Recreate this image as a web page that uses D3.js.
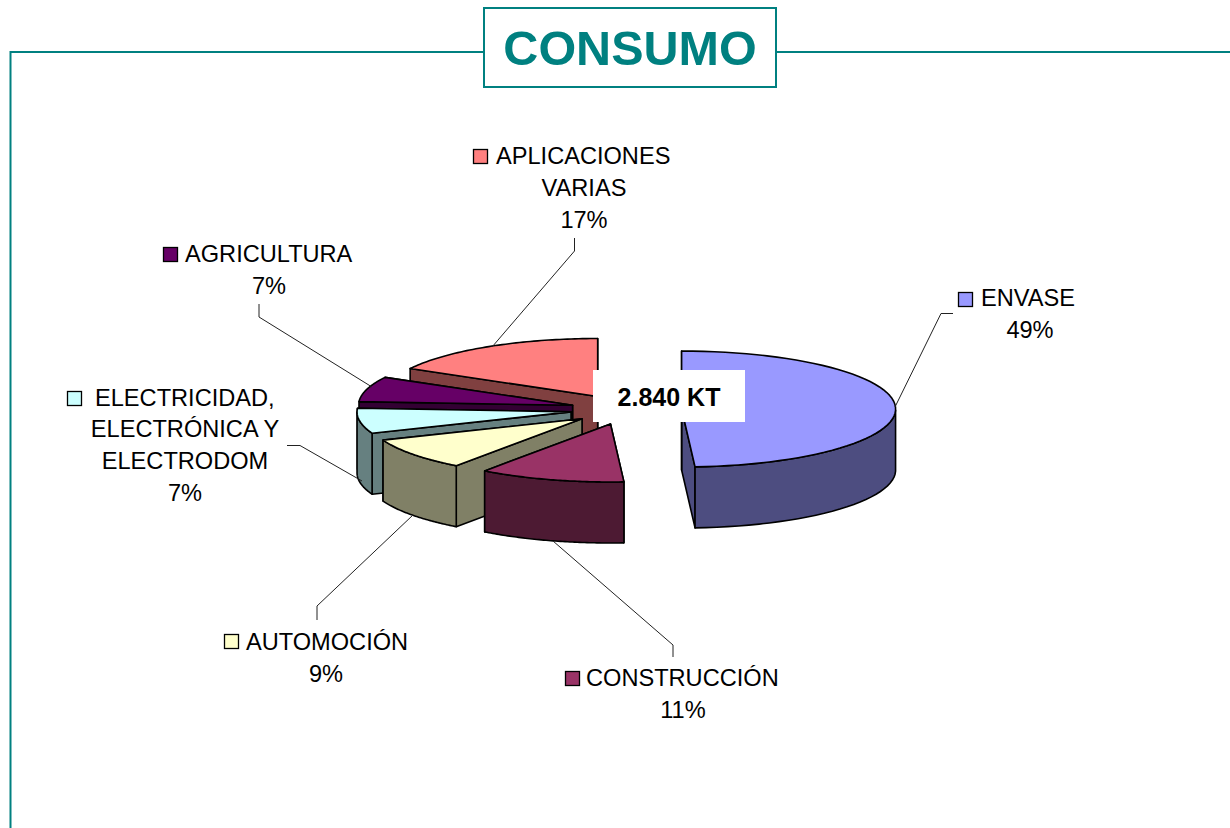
<!DOCTYPE html>
<html>
<head>
<meta charset="utf-8">
<script src="https://cdnjs.cloudflare.com/ajax/libs/d3/7.8.5/d3.min.js"></script>
<style>
html,body{margin:0;padding:0;background:#fff;overflow:hidden}
svg{display:block}
text{font-family:"Liberation Sans",Arial,sans-serif}
</style>
</head>
<body>
<svg id="c" width="1230" height="828"></svg>
<script>
// Data
const titleText = "CONSUMO";
const totalText = "2.840 KT";
const categories = ["ENVASE","CONSTRUCCIÓN","AUTOMOCIÓN","ELECTRICIDAD","AGRICULTURA","APLICACIONES"];
const values = [49,11,9,7,7,17];
const labelLines = [
  ["ENVASE"],
  ["CONSTRUCCIÓN"],
  ["AUTOMOCIÓN"],
  ["ELECTRICIDAD,","ELECTRÓNICA Y","ELECTRODOM"],
  ["AGRICULTURA"],
  ["APLICACIONES","VARIAS"]
];
// Styles
const topColors  = ["#9999FF","#993366","#FFFFCC","#CCFFFF","#660066","#FF8080"];
const sideColors = ["#4D4D80","#4D1A33","#808066","#668080","#330033","#804040"];
const teal = "#008080";
// Layout
const keyBoxes = [[958,292],[565,671],[224,634],[67,391],[163,247],[473,149]];
const labelCentres = [[1030,[306,338]],[683,[686,718]],[326,[650,682]],[185,[406,437,469,501]],[269,[262,294]],[584,[164,196,228]]];
const firstLineX = [981,586,246,95,185,496];
const leaders = [
  [[953,313.5],[941,313.5],[895,407]],
  [[673,657],[673,645],[553,541]],
  [[317,620],[317,606],[413,515]],
  [[287,445.5],[300,445.5],[362,481]],
  [[259,304],[259,317],[372,387]],
  [[574.5,238],[574.5,251],[492,347]]
];
const cx = 626, cy = 409.5, rx = 214, ry = 58, depth = 61, explode = 0.26;

const svg = d3.select("#c");
svg.append("rect").attr("width",1230).attr("height",828).attr("fill","#fff");

// frame
svg.append("path").attr("fill","none").attr("stroke",teal).attr("stroke-width",2)
  .attr("d",d3.line()([[10.5,828],[10.5,52],[1230,52]]));
svg.append("rect").attr("x",484).attr("y",8).attr("width",292).attr("height",79)
  .attr("fill","#fff").attr("stroke",teal).attr("stroke-width",2);
svg.append("text").attr("x",630).attr("y",65).attr("text-anchor","middle")
  .attr("font-size",48.5).attr("font-weight","bold").attr("fill",teal).text(titleText);

// pie
const x = d3.scaleLinear().domain([-1,1]).range([cx-rx,cx+rx]);
const y = d3.scaleLinear().domain([-1,1]).range([cy-ry,cy+ry]);
const arcs = d3.pie().sort(null).value(d=>d)(values);
const line = d3.line().curve(d3.curveLinearClosed);
const gPie = svg.append("g");

function slicePts(a){
  const mid = (a.startAngle+a.endAngle)/2;
  const ox = explode*Math.sin(mid), oy = -explode*Math.cos(mid);
  const P = t => [x(Math.sin(t)+ox), y(-Math.cos(t)+oy)];
  return {apex:[x(ox),y(oy)], P};
}
const down = p => [p[0],p[1]+depth];

// back-to-front drawing order
const order = [5,4,3,2,1,0];
order.forEach(i=>{
  const a = arcs[i], {apex,P} = slicePts(a);
  const n = 60;
  const angs = d3.range(n+1).map(k=>a.startAngle+(a.endAngle-a.startAngle)*k/n);
  const g = gPie.append("g").attr("stroke","#000").attr("stroke-width",1.6).attr("stroke-linejoin","round");
  // radial walls
  [a.endAngle,a.startAngle].forEach(t=>{
    const e = P(t);
    g.append("path").attr("fill",sideColors[i]).attr("d",line([apex,e,down(e),down(apex)]));
  });
  // outer wall (only the front half of the rim)
  const front = angs.filter(t=>Math.cos(t)<0);
  if(front.length>1){
    const top = front.map(P);
    g.append("path").attr("fill",sideColors[i]).attr("d",line(top.concat(top.map(down).reverse())));
  }
  // top face
  g.append("path").attr("fill",topColors[i]).attr("d",line([apex].concat(angs.map(P))));
});

// total label
svg.append("rect").attr("x",593).attr("y",370).attr("width",152).attr("height",52).attr("fill","#fff");
svg.append("text").attr("x",669).attr("y",406).attr("text-anchor","middle")
  .attr("font-size",25).attr("font-weight","bold").attr("fill","#000").text(totalText);

// leaders
leaders.forEach(l=>{
  svg.append("path").attr("fill","none").attr("stroke","#222").attr("stroke-width",1).attr("d",d3.line()(l));
});

// labels
categories.forEach((c,i)=>{
  const [kx,ky] = keyBoxes[i];
  svg.append("rect").attr("x",kx+.5).attr("y",ky+.5).attr("width",14).attr("height",14)
    .attr("fill",topColors[i]).attr("stroke","#000").attr("stroke-width",1.3);
  const [mx,ys] = labelCentres[i];
  const lines = labelLines[i].concat([values[i]+"%"]);
  lines.forEach((t,j)=>{
    const el = svg.append("text").attr("y",ys[j]).attr("font-size",23.6).attr("fill","#000").text(t);
    if(j===0) el.attr("x",firstLineX[i]);
    else el.attr("x",mx).attr("text-anchor","middle");
  });
});
</script>
</body>
</html>
